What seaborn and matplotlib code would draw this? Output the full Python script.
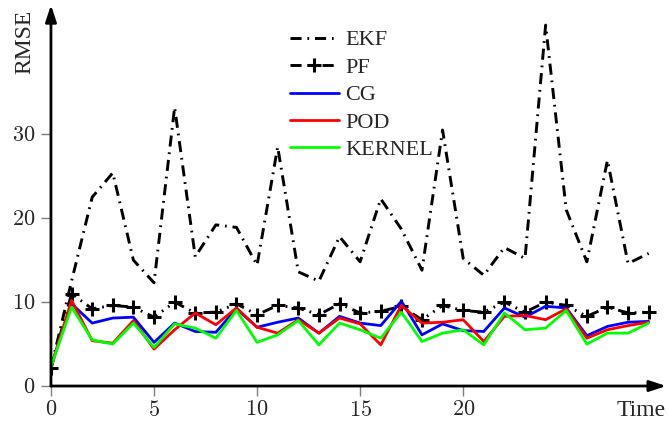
import matplotlib
matplotlib.use("Agg")
import matplotlib.pyplot as plt
import seaborn as sns

# RMSE per time step for each estimator
time = list(range(30))
ekf = [2.1, 12.5, 22.5, 25.4, 15.0, 12.3, 33.2, 15.4, 19.2, 18.9, 14.4, 28.5, 13.6, 12.5, 17.8,
       14.8, 22.3, 18.7, 13.8, 30.5, 15.2, 13.2, 16.5, 15.2, 43.0, 21.0, 14.8, 26.9, 14.6, 15.8]
pf = [2.1, 11.0, 9.2, 9.6, 9.4, 8.2, 10.0, 8.7, 8.8, 9.8, 8.5, 9.6, 9.3, 8.5, 9.8,
      8.7, 8.9, 9.5, 7.9, 9.6, 9.0, 8.8, 10.0, 8.8, 10.0, 9.6, 8.3, 9.4, 8.7, 8.8]
cg = [2.3, 9.8, 7.5, 8.1, 8.2, 5.2, 7.5, 6.5, 6.4, 9.2, 7.0, 7.6, 8.1, 6.3, 8.3,
      7.5, 7.2, 10.1, 6.1, 7.4, 6.6, 6.5, 9.3, 8.2, 9.5, 9.3, 6.0, 7.1, 7.6, 7.7]
pod = [2.3, 10.2, 5.4, 5.1, 7.8, 4.4, 6.7, 8.7, 7.3, 9.3, 7.0, 6.3, 7.9, 6.3, 8.1,
       7.4, 4.9, 9.6, 7.5, 7.6, 7.9, 5.3, 8.3, 8.4, 7.9, 9.2, 5.7, 6.7, 7.2, 7.6]
kernel = [2.3, 9.4, 5.5, 5.0, 7.5, 4.6, 7.4, 6.9, 5.7, 9.0, 5.2, 6.1, 7.8, 4.9, 7.5,
          6.7, 5.7, 8.8, 5.3, 6.3, 6.7, 4.9, 8.7, 6.7, 6.9, 9.0, 5.0, 6.3, 6.3, 7.5]

x_ticks = [0, 5, 10, 15, 20]
y_ticks = [0, 10, 20, 30]

sns.set_style("white")
plt.rcParams['font.family'] = ['Liberation Serif', 'DejaVu Serif']
plt.rcParams['mathtext.fontset'] = 'cm'

fig = plt.figure(figsize=(6.68, 4.33), dpi=100)
ax = fig.add_axes([0.0763, 0.1085, 0.921, 0.88])

sns.lineplot(x=time, y=ekf, color='black', lw=2.1, linestyle=(0, (3.8, 2.0, 0.6, 2.0)),
             label='EKF', ax=ax)
sns.lineplot(x=time, y=pf, color='black', lw=2.1, linestyle=(0, (3.8, 2.0, 0.6, 2.0, 0.6, 2.0)),
             marker='+', markersize=10, markeredgewidth=2.2, markeredgecolor='black',
             label='PF', ax=ax)
sns.lineplot(x=time, y=cg, color='#0000ff', lw=2, label='CG', ax=ax)
sns.lineplot(x=time, y=pod, color='#ff0000', lw=2, label='POD', ax=ax)
sns.lineplot(x=time, y=kernel, color='#00ff00', lw=2, label='KERNEL', ax=ax)

ax.set_xlim(0, 29.85)
ax.set_ylim(0, 45.4)
ax.set_xticks(x_ticks)
ax.set_xticklabels([f"${v}$" for v in x_ticks])
ax.set_yticks(y_ticks)
ax.set_yticklabels([f"${v}$" for v in y_ticks])
ax.tick_params(bottom=True, left=True, direction='out', length=7, width=1,
               color='gray', pad=4, labelsize=16)

# axis lines with arrow heads instead of spines
for s in ax.spines.values():
    s.set_visible(False)
arrow = dict(arrowstyle='-|>,head_length=1.0,head_width=0.33', color='black', lw=2,
             shrinkA=0, shrinkB=0)
ax.annotate('', xy=(1, 0), xytext=(0, 0), xycoords='axes fraction', arrowprops=arrow,
            annotation_clip=False)
ax.annotate('', xy=(0, 1), xytext=(0, 0), xycoords='axes fraction', arrowprops=arrow,
            annotation_clip=False)

ax.set_xlabel("Time", fontsize=17)
ax.xaxis.set_label_coords(0.959, -0.037)
ax.set_ylabel("RMSE", fontsize=17)
ax.yaxis.set_label_coords(-0.026, 0.903)

ax.legend(loc='upper left', bbox_to_anchor=(0.434, 0.931), bbox_transform=fig.transFigure,
          frameon=False, fontsize=16, handlelength=2.2, handletextpad=0.3,
          labelspacing=0.31, borderpad=0, borderaxespad=0)

fig.savefig("out.png", dpi=100)
